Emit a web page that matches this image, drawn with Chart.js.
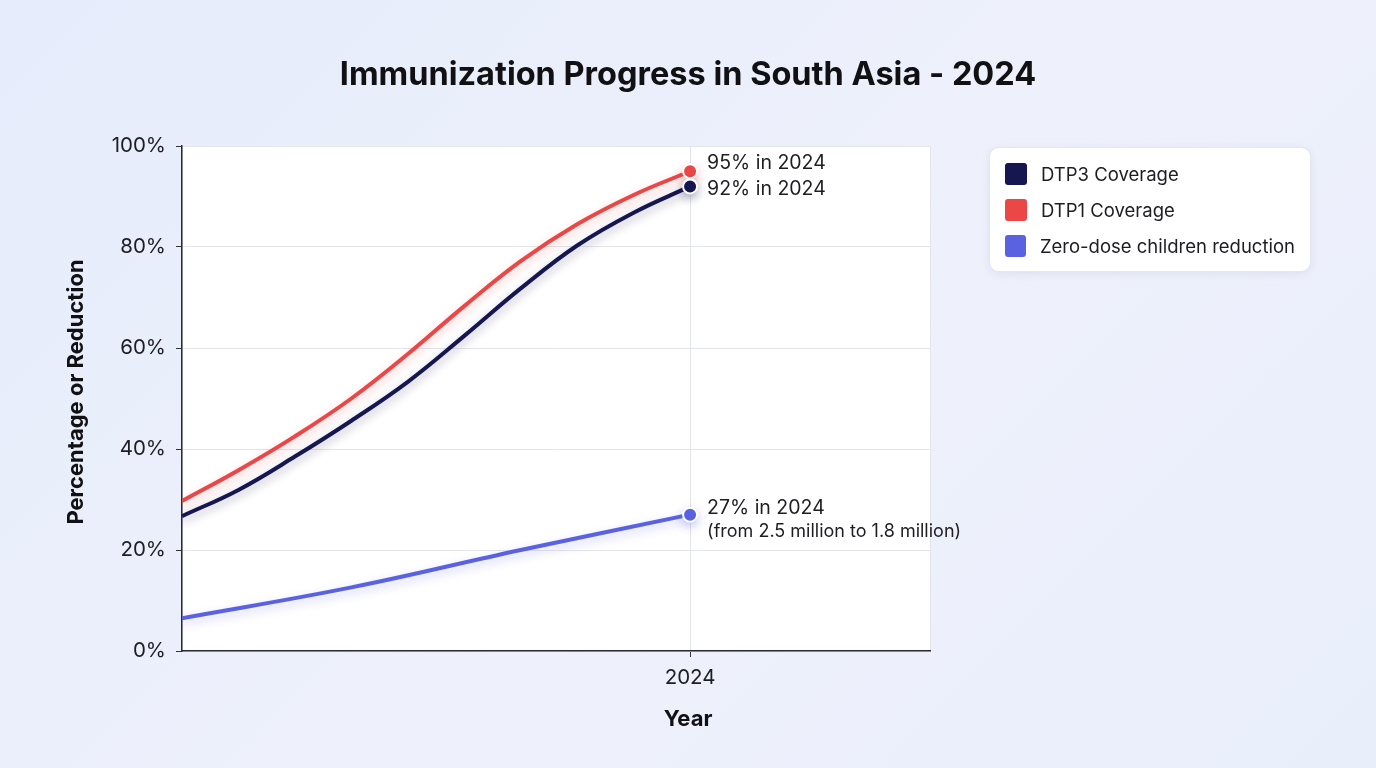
<!DOCTYPE html>
<html>
<head>
<meta charset="utf-8">
<title>Immunization Progress in South Asia - 2024</title>
<script src="https://cdn.jsdelivr.net/npm/chart.js@4.4.1/dist/chart.umd.min.js"></script>
<style>
  html, body { margin: 0; padding: 0; }
  body {
    width: 1376px; height: 768px; overflow: hidden;
    background: linear-gradient(135deg, #e6ecfb 0%, #eef1fb 55%, #e9eefb 100%);
    font-family: Inter, "Noto Sans", sans-serif;
  }
  #wrap { position: absolute; left: 0; top: 0; width: 1376px; height: 768px; }
  #legend {
    position: absolute; left: 989px; top: 147px; width: 322px; height: 125px;
    box-sizing: border-box; padding: 15px 15px 0 15px;
    background: #fff; border: 1px solid #e3e7f0; border-radius: 10px;
    box-shadow: 0 2px 8px rgba(40, 50, 90, 0.08);
  }
  .item { display: flex; align-items: center; height: 22px; margin-bottom: 14px; }
  .sw { width: 22px; height: 22px; border-radius: 3px; margin-right: 14px; }
  .lbl { font-size: 18.5px; color: #1d1d22; white-space: nowrap; }
</style>
</head>
<body>
<div id="wrap"><canvas id="chart" width="1376" height="768"></canvas></div>
<div id="legend"></div>
<script>
// data
const years = [2015, 2016, 2017, 2018, 2019, 2020, 2021, 2022, 2023, 2024];
const dtp3 = [26.7, 31.9, 38.5, 45.6, 53.3, 62.4, 71.8, 80.3, 86.8, 92];
const dtp1 = [29.7, 35.8, 42.5, 50, 58.8, 68.3, 77.2, 84.5, 90.3, 95];
const zeroYears = [2015, 2018, 2021, 2024];
const zeroDose = [6.5, 12.6, 20, 27];
const xTicks = [2024];
const yTicks = [0, 20, 40, 60, 80, 100];

const seriesNames = ["DTP3 Coverage", "DTP1 Coverage", "Zero-dose children reduction"];
const seriesColors = ["#161650", "#ec4646", "#5b62e2"];
const endLabels = ["92% in 2024", "95% in 2024", "27% in 2024"];
const endNotes = ["", "", "(from 2.5 million to 1.8 million)"];
const labelShift = [3, -8, -7];

const FONT = "Inter, 'Noto Sans', sans-serif";

const toPoints = (xs, ys) => xs.map((x, i) => ({ x: x, y: ys[i] }));
const lastOnly = (r) => (ctx) => ctx.dataIndex === ctx.dataset.data.length - 1 ? r : 0;

function hexA(hex, a) {
    const n = parseInt(hex.slice(1), 16);
    return "rgba(" + (n >> 16) + "," + ((n >> 8) & 255) + "," + (n & 255) + "," + a + ")";
}

const plotBg = {
    id: "plotBg",
    beforeDraw(chart) {
        const { ctx, chartArea: a } = chart;
        ctx.save();
        ctx.fillStyle = "#ffffff";
        ctx.fillRect(a.left, a.top, a.right - a.left, a.bottom - a.top);
        ctx.strokeStyle = "#e3e5ea";
        ctx.lineWidth = 1;
        ctx.strokeRect(a.left + 0.5, a.top + 0.5, a.right - a.left, a.bottom - a.top);
        ctx.restore();
    },
};

const glow = {
    id: "glow",
    beforeDatasetDraw(chart, args) {
        const ctx = chart.ctx;
        ctx.save();
        ctx.shadowColor = hexA(seriesColors[args.index], 0.3);
        ctx.shadowBlur = 10;
        ctx.shadowOffsetY = 4;
    },
    afterDatasetDraw(chart) {
        chart.ctx.restore();
    },
};

const texts = {
    id: "texts",
    afterDatasetsDraw(chart) {
        const ctx = chart.ctx;
        ctx.save();
        ctx.fillStyle = "#1d1d22";
        ctx.textAlign = "left";
        ctx.textBaseline = "middle";
        chart.data.datasets.forEach((ds, i) => {
            const meta = chart.getDatasetMeta(i);
            const pt = meta.data[meta.data.length - 1];
            const x = pt.x + 17;
            const y = pt.y + labelShift[i];
            ctx.font = "400 19.5px " + FONT;
            ctx.fillText(endLabels[i], x, y);
            if (endNotes[i]) {
                ctx.font = "400 18px " + FONT;
                ctx.fillText(endNotes[i], x, y + 24);
            }
        });
        // chart title and axis titles
        ctx.fillStyle = "#111114";
        ctx.textAlign = "center";
        ctx.font = "700 32.5px " + FONT;
        ctx.fillText("Immunization Progress in South Asia - 2024", chart.width / 2, 75);
        ctx.font = "700 22px " + FONT;
        ctx.fillText("Year", chart.width / 2, 719);
        ctx.translate(76, 392);
        ctx.rotate(-Math.PI / 2);
        ctx.fillText("Percentage or Reduction", 0, 0);
        ctx.restore();
    },
};

const chart = new Chart(document.getElementById("chart"), {
    type: "line",
    data: {
        datasets: [
            { label: seriesNames[0], data: toPoints(years, dtp3) },
            { label: seriesNames[1], data: toPoints(years, dtp1) },
            { label: seriesNames[2], data: toPoints(zeroYears, zeroDose) },
        ].map((d, i) => Object.assign(d, {
            borderColor: seriesColors[i],
            backgroundColor: seriesColors[i],
            borderWidth: 4,
            fill: false,
            tension: 0.4,
            pointRadius: lastOnly(7),
            pointBorderColor: "#ffffff",
            pointBorderWidth: 2,
            pointBackgroundColor: seriesColors[i],
        })),
    },
    options: {
        responsive: false,
        animation: false,
        events: [],
        layout: { padding: { left: 60, right: 446, top: 146, bottom: 0 } },
        plugins: {
            legend: { display: false },
            title: { display: false },
            tooltip: { enabled: false },
        },
        scales: {
            x: {
                type: "linear",
                min: 2015,
                max: 2028.25,
                afterBuildTicks: (s) => { s.ticks = xTicks.map((v) => ({ value: v })); },
                afterFit: (s) => { s.height = 117; },
                ticks: {
                    callback: (v) => String(v),
                    font: { family: FONT, size: 20.5 },
                    color: "#1d1d22",
                    padding: 9,
                },
                grid: { color: "#e3e5ea", tickColor: "#333", tickLength: 6 },
                border: { color: "#2a2a30", width: 1.5 },
            },
            y: {
                min: 0,
                max: 100,
                afterBuildTicks: (s) => { s.ticks = yTicks.map((v) => ({ value: v })); },
                afterFit: (s) => { s.width = 122; },
                ticks: {
                    callback: (v) => v + "%",
                    font: { family: FONT, size: 20.5 },
                    color: "#1d1d22",
                    padding: 10,
                },
                grid: { color: "#e3e5ea", tickColor: "#333", tickLength: 6 },
                border: { color: "#2a2a30", width: 1.5 },
            },
        },
    },
    plugins: [plotBg, glow, texts],
});

// legend box built from the chart's own datasets
const legend = document.getElementById("legend");
chart.data.datasets.forEach((ds) => {
    const row = document.createElement("div");
    row.className = "item";
    const sw = document.createElement("span");
    sw.className = "sw";
    sw.style.background = ds.borderColor;
    const lbl = document.createElement("span");
    lbl.className = "lbl";
    lbl.textContent = ds.label;
    row.appendChild(sw);
    row.appendChild(lbl);
    legend.appendChild(row);
});
</script>
</body>
</html>
